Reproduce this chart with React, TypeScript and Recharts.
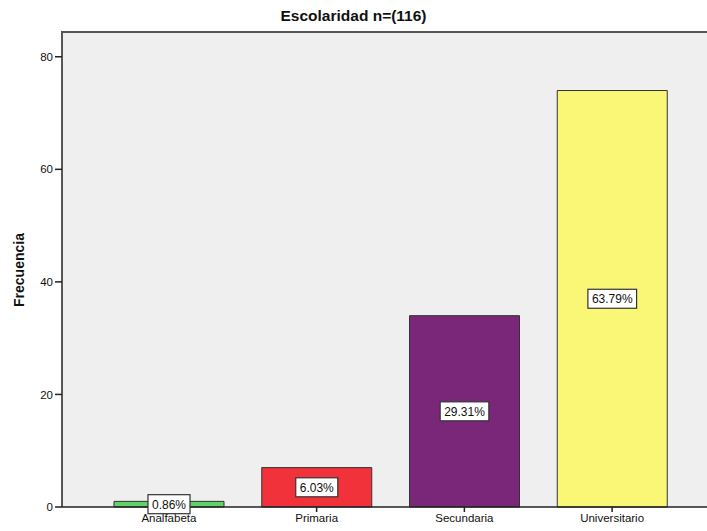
import React from 'react';
import { BarChart, Bar, XAxis, YAxis, CartesianGrid, Cell, LabelList } from 'recharts';

const categories = ['Analfabeta', 'Primaria', 'Secundaria', 'Universitario'];
const frequencies = [1, 7, 34, 74];
const percentLabels = ['0.86%', '6.03%', '29.31%', '63.79%'];
const barColors = ['#5fd36a', '#f1323b', '#7b2779', '#fbf776'];
const yTicks = [0, 20, 40, 60, 80];
const yMax = 84.4;

const data = categories.map((c, i) => ({ name: c, value: frequencies[i], pct: percentLabels[i] }));

const FONT = '"Liberation Sans", Arial, sans-serif';

const charW = (s: string, fs: number) => {
  let w = 0;
  for (const ch of s) {
    if (ch === '.') w += 0.278;
    else if (ch === '%') w += 0.889;
    else w += 0.556;
  }
  return w * fs;
};

const PctLabel = (props: any) => {
  const { x, y, width, height, value } = props;
  const cx = x + width / 2;
  const cy = y + height / 2;
  const tw = charW(String(value), 12) + 8;
  const th = 19;
  return (
    <g>
      <rect x={cx - tw / 2} y={cy - th / 2} width={tw} height={th} fill="#ffffff" stroke="#333333" strokeWidth={1.2} />
      <text x={cx} y={cy + 4.5} textAnchor="middle" fontSize={12} fontFamily={FONT} fill="#111">{value}</text>
    </g>
  );
};

export default function App() {
  return (
    <div style={{ position: 'fixed', left: 0, top: 0, width: 707, height: 531, overflow: 'hidden', background: '#fff' }}>
      <div style={{ position: 'absolute', left: 0, top: 7, width: 707, textAlign: 'center', fontFamily: FONT, fontWeight: 'bold', fontSize: 15.5, color: '#111' }}>
        Escolaridad n=(116)
      </div>
      <div style={{ position: 'absolute', left: 19, top: 270, transform: 'translate(-50%, -50%) rotate(-90deg)', fontFamily: FONT, fontWeight: 'bold', fontSize: 14, color: '#111', whiteSpace: 'nowrap' }}>
        Frecuencia
      </div>
      <div style={{ position: 'absolute', left: 0, top: 0 }}>
        <BarChart width={707} height={531} data={data} margin={{ top: 32, right: 0, bottom: 0, left: 0 }} barCategoryGap={19}>
          <CartesianGrid horizontal={false} vertical={false} fill="#efefef" />
          <XAxis
            dataKey="name"
            height={24}
            padding={{ left: 33, right: 21 }}
            axisLine={{ stroke: '#222', strokeWidth: 1.5 }}
            tickLine={{ stroke: '#222', strokeWidth: 1.5 }}
            tickSize={5}
            tick={{ fontSize: 11.5, fill: '#111', fontFamily: FONT }}
            interval={0}
          />
          <YAxis
            width={62}
            domain={[0, yMax]}
            ticks={yTicks}
            axisLine={{ stroke: '#222', strokeWidth: 1.5 }}
            tickLine={{ stroke: '#222', strokeWidth: 1.5 }}
            tickSize={7}
            tick={{ fontSize: 11.5, fill: '#111', fontFamily: FONT }}
          />
          <Bar dataKey="value" isAnimationActive={false}>
            {data.map((d, i) => (
              <Cell key={d.name} fill={barColors[i]} stroke="#333" strokeWidth={1} />
            ))}
            <LabelList dataKey="pct" content={<PctLabel />} />
          </Bar>
        </BarChart>
      </div>
      <div style={{ position: 'absolute', left: 680, top: 33, width: 27, height: 473, background: '#efefef' }} />
      <div style={{ position: 'absolute', left: 61, top: 31, width: 646, height: 2, background: '#555' }} />
    </div>
  );
}
